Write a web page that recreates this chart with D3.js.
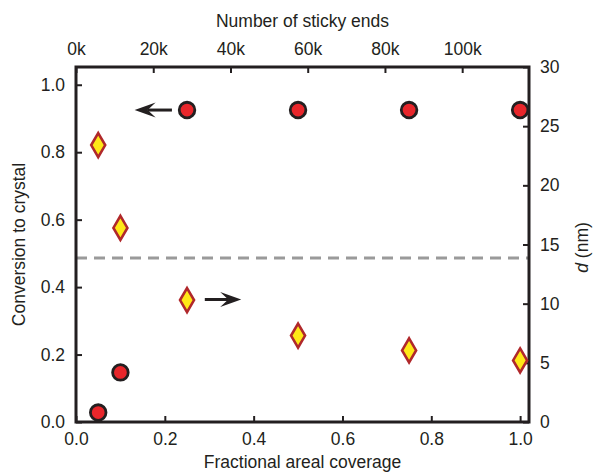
<!DOCTYPE html>
<html>
<head>
<meta charset="utf-8">
<script src="https://cdn.jsdelivr.net/npm/d3@7"></script>
<style>
html,body{margin:0;padding:0;background:#fff;}
svg{display:block;}
text{font-family:"Liberation Sans",Arial,Helvetica,sans-serif;fill:#231f20;}
</style>
</head>
<body>
<svg id="chart" width="593" height="474"></svg>
<script>
// ---- data ----
const coverage = [0.05, 0.1, 0.25, 0.5, 0.75, 1.0];
const conversion = [0.028, 0.147, 0.925, 0.925, 0.925, 0.925];
const dNm = [23.4, 16.4, 10.3, 7.3, 6.05, 5.2];
const dashedD = 13.85;
const bottomTicks = [0, 0.2, 0.4, 0.6, 0.8, 1.0];
const leftTicks = [0, 0.2, 0.4, 0.6, 0.8, 1.0];
const rightTicks = [0, 5, 10, 15, 20, 25, 30];
const topTicks = [0, 20000, 40000, 60000, 80000, 100000];
const stickyAtFull = 115000;

// ---- layout ----
const W = 593, H = 474;
const m = {left: 76, right: 64, top: 67, bottom: 52};
const svg = d3.select("#chart");
const iw = W - m.left - m.right, ih = H - m.top - m.bottom;
const g = svg.append("g").attr("transform", `translate(${m.left},${m.top})`);

const x = d3.scaleLinear().domain([0, 1.02]).range([0, iw]);
const xTop = d3.scaleLinear().domain([0, 1.02 * stickyAtFull]).range([0, iw]);
const yR = d3.scaleLinear().domain([0, 30]).range([ih, 0]);
const yL = d3.scaleLinear().domain([0, 30 / 28.5]).range([ih, 0]);

const ink = "#231f20";
const fs = 17.5;

function styleAxis(sel) {
  sel.select(".domain").remove();
  sel.selectAll(".tick line").attr("stroke", ink).attr("stroke-width", 2);
  sel.selectAll(".tick text").style("font-size", fs + "px").attr("fill", ink);
}

// bottom axis
g.append("g").attr("transform", `translate(0,${ih})`)
  .call(d3.axisBottom(x).tickValues(bottomTicks).tickFormat(d3.format(".1f")).tickSizeInner(-6).tickPadding(11))
  .call(styleAxis);
// top axis
g.append("g")
  .call(d3.axisTop(xTop).tickValues(topTicks).tickFormat(d => (d / 1000) + "k").tickSizeInner(-6).tickPadding(12))
  .call(styleAxis);
// left axis
g.append("g")
  .call(d3.axisLeft(yL).tickValues(leftTicks).tickFormat(d3.format(".1f")).tickSizeInner(-6).tickPadding(11))
  .call(styleAxis);
// right axis
g.append("g").attr("transform", `translate(${iw},0)`)
  .call(d3.axisRight(yR).tickValues(rightTicks).tickSizeInner(-6).tickPadding(11))
  .call(styleAxis);

// dashed line
g.append("line")
  .attr("x1", 0).attr("x2", iw)
  .attr("y1", yR(dashedD)).attr("y2", yR(dashedD))
  .attr("stroke", "#9a9a9a").attr("stroke-width", 3)
  .attr("stroke-dasharray", "11,7");

// frame
g.append("rect").attr("x", 0).attr("y", 0).attr("width", iw).attr("height", ih)
  .attr("fill", "none").attr("stroke", ink).attr("stroke-width", 3);

// diamonds
const diamond = "M0,-12L7,0L0,12L-7,0Z";
g.selectAll(".dia").data(coverage).join("path")
  .attr("class", "dia")
  .attr("d", diamond)
  .attr("transform", (d, i) => `translate(${x(d)},${yR(dNm[i])})`)
  .attr("fill", "#ffe817").attr("stroke", "#b0282b").attr("stroke-width", 2.6)
  .attr("stroke-linejoin", "miter");

// circles
g.selectAll(".dot").data(coverage).join("circle")
  .attr("class", "dot")
  .attr("cx", d => x(d)).attr("cy", (d, i) => yL(conversion[i]))
  .attr("r", 7.8)
  .attr("fill", "#e8262b").attr("stroke", ink).attr("stroke-width", 2.8);

// arrows
function arrow(x0, x1, yy) {
  const dir = x1 > x0 ? 1 : -1;
  const head = 21, hw = 7.5, notch = 13;
  const grp = g.append("g");
  grp.append("line").attr("x1", x0).attr("x2", x1 - dir * notch).attr("y1", yy).attr("y2", yy)
    .attr("stroke", ink).attr("stroke-width", 3);
  grp.append("path")
    .attr("d", `M${x1},${yy}L${x1 - dir * head},${yy - hw}L${x1 - dir * notch},${yy}L${x1 - dir * head},${yy + hw}Z`)
    .attr("fill", ink);
}
arrow(x(0.216), x(0.132), yL(0.925));
arrow(x(0.29), x(0.372), yR(10.35));

// titles
svg.append("text").attr("x", m.left + iw / 2).attr("y", 27).attr("text-anchor", "middle")
  .style("font-size", fs + "px").text("Number of sticky ends");
svg.append("text").attr("x", m.left + iw / 2).attr("y", 468).attr("text-anchor", "middle")
  .style("font-size", fs + "px").text("Fractional areal coverage");
svg.append("text").attr("transform", `translate(25,${m.top + ih / 2}) rotate(-90)`).attr("text-anchor", "middle")
  .style("font-size", fs + "px").text("Conversion to crystal");
const rt = svg.append("text").attr("transform", `translate(588,${m.top + ih / 2 + 3}) rotate(-90)`).attr("text-anchor", "middle")
  .style("font-size", fs + "px");
rt.append("tspan").style("font-style", "italic").text("d");
rt.append("tspan").text(" (nm)");
</script>
</body>
</html>
